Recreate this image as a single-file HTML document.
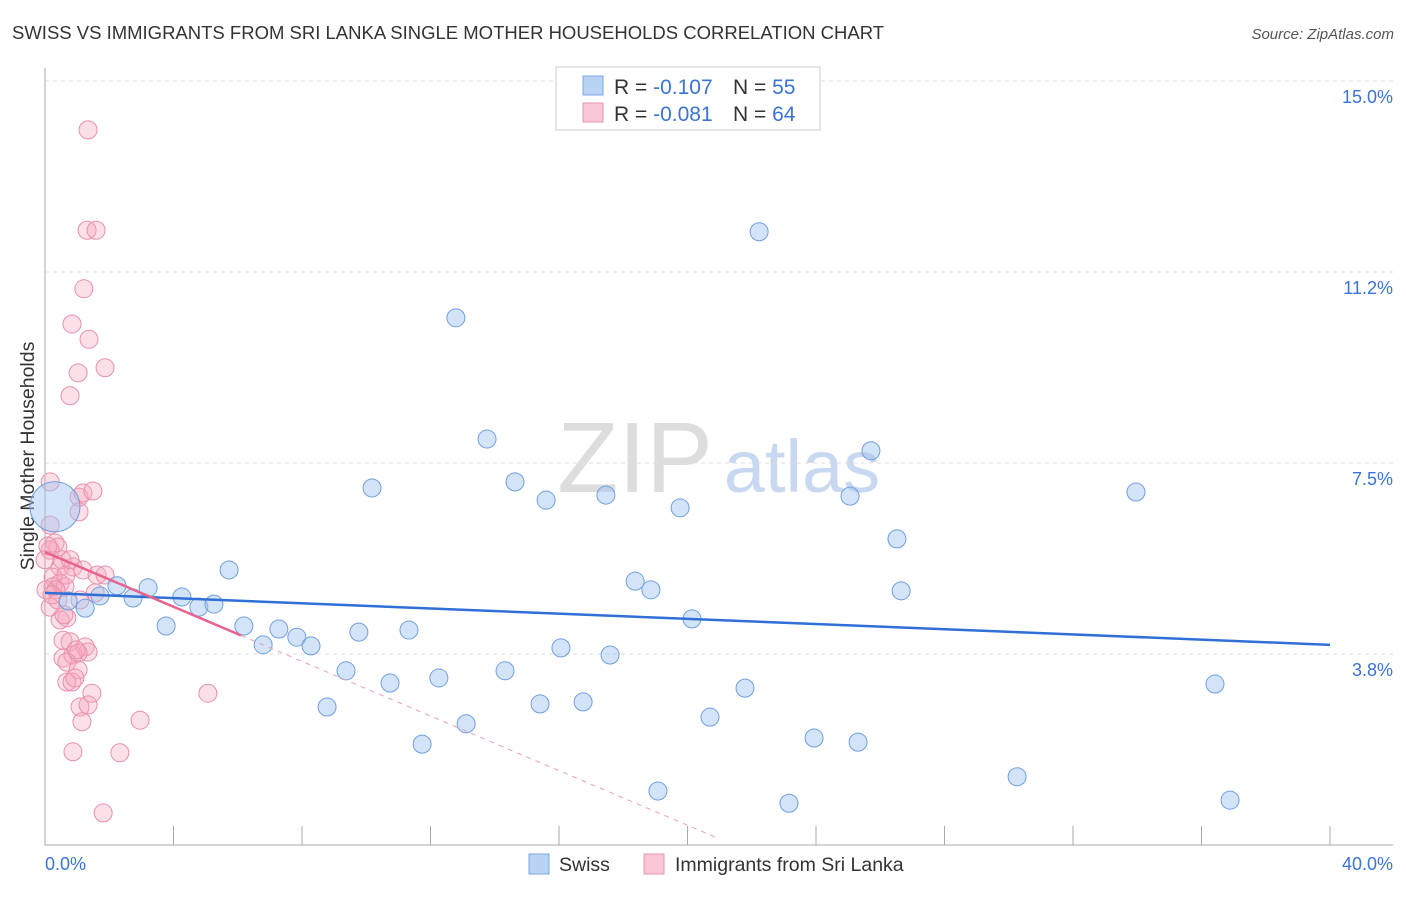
<!DOCTYPE html>
<html><head><meta charset="utf-8"><style>
body{margin:0;background:#fff;font-family:"Liberation Sans",sans-serif;}
svg text{font-family:"Liberation Sans",sans-serif;}
</style></head><body>
<svg id="chart" width="1406" height="892" viewBox="0 0 1406 892" xmlns="http://www.w3.org/2000/svg">
<text x="12" y="39" font-size="18.5" fill="#333">SWISS VS IMMIGRANTS FROM SRI LANKA SINGLE MOTHER HOUSEHOLDS CORRELATION CHART</text>
<text x="1394" y="39" font-size="15" fill="#555" text-anchor="end" font-style="italic">Source: ZipAtlas.com</text>
<text transform="translate(34,456) rotate(-90)" font-size="19.5" fill="#333" text-anchor="middle">Single Mother Households</text>
<g>
<text x="635" y="492" font-size="100" fill="#ddd" text-anchor="middle" font-family="Liberation Serif, serif">ZIP</text>
<text x="802" y="492" font-size="74" fill="#c8d8f0" text-anchor="middle">atlas</text>
</g>
<g id="grid"></g>
<g id="axes"></g>
<g id="points"></g>
<g id="trends"></g>
<g>
<rect x="556" y="67" width="264" height="63" fill="#fff" stroke="#ccc"/>
<rect x="583" y="76" width="20" height="19" fill="#b9d3f5" stroke="#7aa7e6"/>
<text x="614" y="94" font-size="21" fill="#333">R = <tspan fill="#3a74d6">-0.107</tspan><tspan x="733">N = </tspan><tspan fill="#3a74d6">55</tspan></text>
<rect x="583" y="103" width="20" height="19" fill="#f8c6d4" stroke="#e895ae"/>
<text x="614" y="121" font-size="21" fill="#333">R = <tspan fill="#3a74d6">-0.081</tspan><tspan x="733">N = </tspan><tspan fill="#3a74d6">64</tspan></text>
</g>
<g>
<rect x="529" y="854" width="20" height="20" fill="#b9d3f5" stroke="#7aa7e6"/>
<text x="559" y="871" font-size="19.5" fill="#333">Swiss</text>
<rect x="644" y="854" width="20" height="20" fill="#f8c6d4" stroke="#e895ae"/>
<text x="675" y="871" font-size="19.5" fill="#333">Immigrants from Sri Lanka</text>
</g>
</svg>
<script>
const xTicks=[0,4,8,12,16,20,24,28,32,36,40];
const yTickVals=[3.75,7.5,11.25,15];
const yTickLabels=["3.8%","7.5%","11.2%","15.0%"];
const xEndLabels=["0.0%","40.0%"];
const swissX=[0.31,0.72,1.25,1.71,2.24,2.74,3.21,3.77,4.26,4.79,5.26,5.73,6.19,6.79,7.28,7.84,8.28,8.78,9.37,9.77,10.18,10.74,11.33,11.74,12.26,12.79,13.11,13.76,14.32,14.63,15.41,15.60,16.06,16.75,17.46,17.59,18.37,18.86,19.08,19.77,20.14,20.70,21.79,22.23,23.16,23.94,25.06,25.31,25.71,26.52,26.65,30.26,33.96,36.42,36.89];
const swissY=[6.64,4.79,4.65,4.89,5.09,4.85,5.05,4.30,4.87,4.67,4.73,5.40,4.30,3.93,4.24,4.08,3.91,2.71,3.42,4.18,7.01,3.18,4.22,1.98,3.28,10.35,2.38,7.97,3.42,7.13,2.77,6.77,3.87,2.81,6.87,3.73,5.18,5.01,1.06,6.62,4.44,2.51,3.08,12.04,0.82,2.10,6.85,2.02,7.74,6.01,4.99,1.34,6.93,3.16,0.88];
const lankaX=[0.16,1.06,1.18,1.49,1.06,0.16,0.31,0.40,0.16,0.47,0.87,1.18,1.62,1.87,0.25,0.47,0.25,0.62,1.56,0.16,0.47,0.68,0.56,0.78,1.25,1.34,0.56,0.87,1.03,0.68,1.03,0.68,0.84,0.93,1.46,5.07,1.09,1.34,1.15,2.96,0.87,2.33,1.81,1.34,1.31,1.59,1.21,0.84,1.37,1.03,1.87,0.78,0.09,0.0,0.53,1.09,0.34,0.65,0.03,0.40,0.22,0.78,0.97,0.59];
const lankaY=[7.13,6.83,6.91,6.95,6.54,6.28,5.93,5.85,5.79,5.46,5.46,5.40,5.30,5.30,5.26,5.14,5.07,5.07,4.95,4.67,4.42,4.46,4.02,3.99,3.89,3.79,3.67,3.73,3.77,3.59,3.44,3.20,3.20,3.28,2.98,2.98,2.71,2.75,2.42,2.45,1.83,1.81,0.63,14.04,12.07,12.07,10.92,10.23,9.93,9.27,9.37,8.82,5.87,5.60,5.60,4.81,5.01,5.30,5.01,4.81,4.91,5.60,3.83,4.52];
const swissTrend=[4.95,3.93];
const lankaTrend=[5.75,0.12];
const lankaSolidEnd=6.1;

const NS="http://www.w3.org/2000/svg";
const X=v=>45+v/40*1285, Y=v=>845-v/15*764;
function mk(t,a,p){const e=document.createElementNS(NS,t);for(const k in a)e.setAttribute(k,a[k]);p.appendChild(e);return e;}
const grid=document.getElementById('grid'),axes=document.getElementById('axes'),pts=document.getElementById('points'),tr=document.getElementById('trends');
yTickVals.forEach((v,i)=>{
 const l=mk('line',{x1:45,x2:1393,y1:Y(v),y2:Y(v),stroke:'#ddd','stroke-dasharray':'4,4'},grid);
 
 
 const t=mk('text',{x:1393,y:Y(v)+22,'font-size':18,fill:'#3a74d6','text-anchor':'end'},axes);
 t.textContent=yTickLabels[i];
 
 
});
const ax=mk('path',{d:'M45,68V845H1393',stroke:'#aaa',fill:'none'},axes);


xTicks.forEach(v=>{
 const l=mk('line',{x1:X(v),x2:X(v),y1:826,y2:845,stroke:'#aaa'},axes);
 
 
});
const t0=mk('text',{x:45,y:870,'font-size':18,fill:'#3a74d6'},axes);t0.textContent=xEndLabels[0];


const t1=mk('text',{x:1393,y:870,'font-size':18,fill:'#3a74d6','text-anchor':'end'},axes);t1.textContent=xEndLabels[1];


lankaX.forEach((v,i)=>{
 const c=mk('circle',{cx:X(v),cy:Y(lankaY[i]),r:9,fill:'rgba(245,165,190,0.35)',stroke:'#e890ab','stroke-width':1},pts);
 
 
});
swissX.forEach((v,i)=>{
 const c=mk('circle',{cx:X(v),cy:Y(swissY[i]),r:i===0?25:9,fill:'rgba(160,196,240,0.45)',stroke:'#6f9fe0','stroke-width':1},pts);
 
 
});
const sl=(lankaTrend[1]-lankaTrend[0])/21;
const ly=x=>lankaTrend[0]+sl*x;
const b=mk('line',{x1:X(0),y1:Y(swissTrend[0]),x2:X(40),y2:Y(swissTrend[1]),stroke:'#2f6fd6','stroke-width':2.5},tr);


const p=mk('line',{x1:X(0),y1:Y(ly(0)),x2:X(lankaSolidEnd),y2:Y(ly(lankaSolidEnd)),stroke:'#e8638e','stroke-width':2.5},tr);


const pd=mk('line',{x1:X(lankaSolidEnd),y1:Y(ly(lankaSolidEnd)),x2:X(21),y2:Y(ly(21)),stroke:'#e8a0b8','stroke-width':1,'stroke-dasharray':'5,5'},tr);


</script>
</body></html>
